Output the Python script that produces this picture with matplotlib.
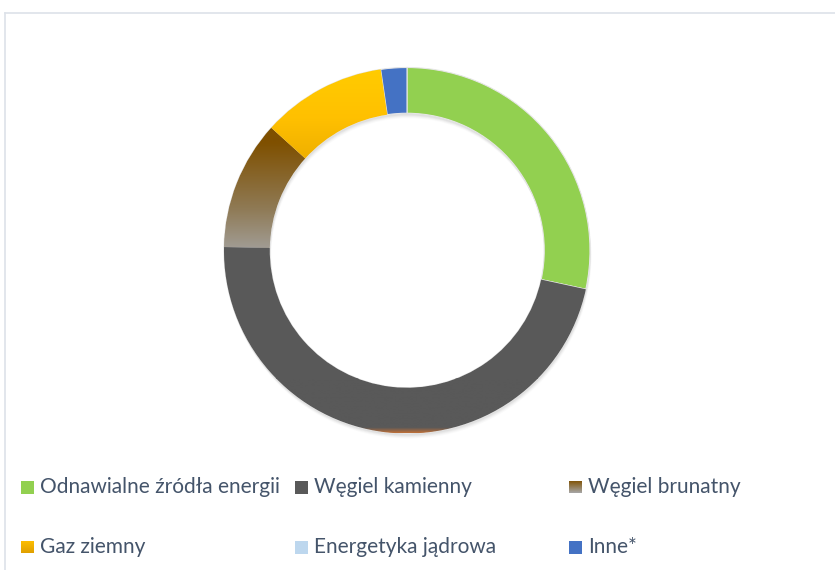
import numpy as np
import matplotlib.pyplot as plt
from matplotlib.patches import Rectangle
from matplotlib.colors import LinearSegmentedColormap

labels = ['Odnawialne źródła energii', 'Węgiel kamienny', 'Węgiel brunatny',
          'Gaz ziemny', 'Energetyka jądrowa', 'Inne*']
shares = [28.4, 46.9, 11.4, 11.0, 0.0, 2.3]
colors = ['#92D050', '#595959', '#7F5000', '#FFC000', '#BDD7EE', '#4472C4']

W, H = 835, 570
fig = plt.figure(figsize=(W / 100, H / 100), dpi=100)
fig.patch.set_facecolor('white')

# chart frame (top and left edge visible)
fig.add_artist(plt.Line2D([5 / W, 1], [1 - 13 / H, 1 - 13 / H], color='#DDE2E9', lw=1.2))
fig.add_artist(plt.Line2D([5 / W, 5 / W], [0, 1 - 13 / H], color='#DDE2E9', lw=1.2))

cx, cy, r = 407, 250.5, 183
ax = fig.add_axes([(cx - r) / W, (H - cy - r) / H, 2 * r / W, 2 * r / H])
ax.set_axis_off()

width = 0.25

# soft shadow below the ring
for k, a in zip([5, 4, 3, 2], [0.04, 0.05, 0.07, 0.09]):
    off = k / r
    ax.pie([1], radius=1.0, center=(off * 0.3, -off), colors=['#808080'],
           wedgeprops=dict(width=width, linewidth=0, alpha=a))

wedges, _ = ax.pie(shares, colors=colors, startangle=90, counterclock=False,
                   wedgeprops=dict(width=width, edgecolor='#E6E6E6', linewidth=0.8))

# gradient fills
grad_specs = {
    2: (['#A6A6A6', '#8F7A55', '#7F5000', '#7F5000'], [0.0, 0.35, 0.8, 1.0], (-0.05, 0.75)),
    3: (['#E0A000', '#FFC000', '#FFCC00'], [0.0, 0.6, 1.0], (0.3, 1.0)),
    1: (['#C07038', '#595959', '#595959'], [0.0, 0.1, 1.0], (-1.0, -0.7)),
}
for i, (cols, pos, (y0, y1)) in grad_specs.items():
    cmap = LinearSegmentedColormap.from_list('g%d' % i, list(zip(pos, cols)))
    z = wedges[i].get_zorder() + 0.1
    g = np.linspace(0, 1, 256).reshape(-1, 1)
    im = ax.imshow(g, cmap=cmap, origin='lower', aspect='auto',
                   extent=(-1.05, 1.05, y0, y1), zorder=z)
    im.set_clip_path(wedges[i])
    lo = ax.imshow([[0]], cmap=cmap, vmin=0, vmax=1, aspect='auto',
                   extent=(-1.05, 1.05, -1.05, y0), zorder=z)
    lo.set_clip_path(wedges[i])
    hi = ax.imshow([[1]], cmap=cmap, vmin=0, vmax=1, aspect='auto',
                   extent=(-1.05, 1.05, y1, 1.05), zorder=z)
    hi.set_clip_path(wedges[i])

ax.set_xlim(-1, 1)
ax.set_ylim(-1, 1)
ax.set_aspect('equal')

# legend
leg_x = [21, 295, 569]
leg_y = [487, 547]
for i, lab in enumerate(labels):
    x = leg_x[i % 3]
    y = leg_y[i // 3]
    if i in (2, 3):
        c2 = '#A6A6A6' if i == 2 else '#E0A000'
        ax2 = fig.add_axes([x / W, (H - y - 6.5) / H, 13 / W, 13 / H])
        ax2.set_axis_off()
        cmap = LinearSegmentedColormap.from_list('l%d' % i, [c2, colors[i]])
        ax2.imshow(np.linspace(0, 1, 32).reshape(-1, 1), cmap=cmap, origin='lower', aspect='auto')
    else:
        fig.add_artist(Rectangle((x / W, (H - y - 6.5) / H), 13 / W, 13 / H,
                                 facecolor=colors[i], edgecolor='none', transform=fig.transFigure))
    fig.text((x + 19) / W, (H - y) / H, lab, fontsize=15, family='Lato',
             color='#44546A', va='center', ha='left')

fig.savefig('out.png', dpi=100, facecolor='white')
